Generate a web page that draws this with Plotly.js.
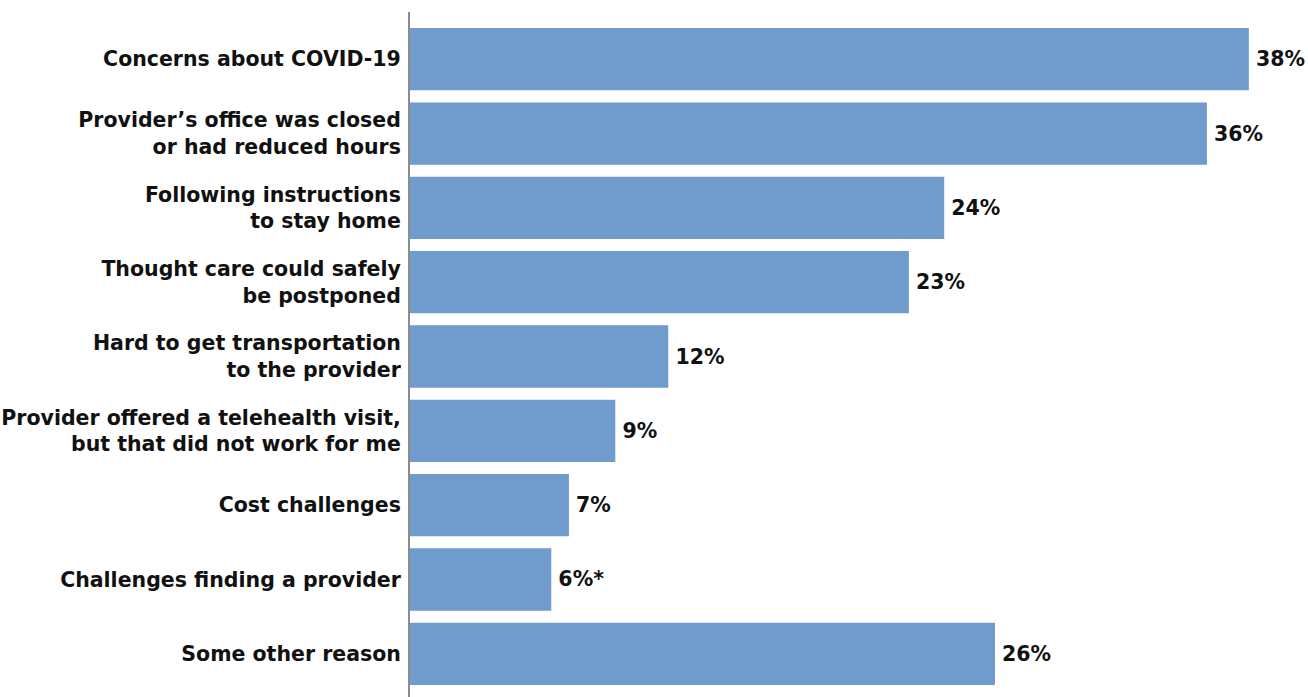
<!DOCTYPE html>
<html>
<head>
<meta charset="utf-8">
<script src="https://cdn.plot.ly/plotly-3.0.1.min.js"></script>
<style>html,body{margin:0;padding:0;background:#fff;}#chart{width:1308px;height:697px;}</style>
</head>
<body>
<div id="chart"></div>
<script>
const categories = [
  "Concerns about COVID-19",
  "Provider’s office was closed<br>or had reduced hours",
  "Following instructions<br>to stay home",
  "Thought care could safely<br>be postponed",
  "Hard to get transportation<br>to the provider",
  "Provider offered a telehealth visit,<br>but that did not work for me",
  "Cost challenges",
  "Challenges finding a provider",
  "Some other reason"
];
const values = [38, 36.1, 24.2, 22.6, 11.7, 9.3, 7.2, 6.4, 26.5];
const valueLabels = ["38%", "36%", "24%", "23%", "12%", "9%", "7%", "6%*", "26%"];

const font = {family: "'DejaVu Sans', sans-serif", size: 20.5, color: "#111", weight: 700};

Plotly.newPlot("chart", [{
  type: "bar",
  orientation: "h",
  y: categories,
  x: values,
  text: valueLabels,
  texttemplate: "\u2009%{text}",
  textposition: "outside",
  textfont: font,
  cliponaxis: false,
  marker: {color: "#6f9bcd"},
  hoverinfo: "none"
}], {
  width: 1308,
  height: 697,
  margin: {l: 410, r: 15, t: 12, b: 0},
  paper_bgcolor: "#fff",
  plot_bgcolor: "#fff",
  bargap: 0.162,
  showlegend: false,
  font: font,
  xaxis: {range: [0, 40], showgrid: false, zeroline: false, showticklabels: false, showline: false, fixedrange: true},
  yaxis: {
    type: "category",
    range: [8.581, -0.635],
    showgrid: false, zeroline: false,
    showline: true, linecolor: "#8c8c8c", linewidth: 2,
    ticks: "", ticklabelstandoff: 3,
    tickfont: font,
    fixedrange: true
  }
}, {displayModeBar: false, staticPlot: true});
</script>
</body>
</html>
